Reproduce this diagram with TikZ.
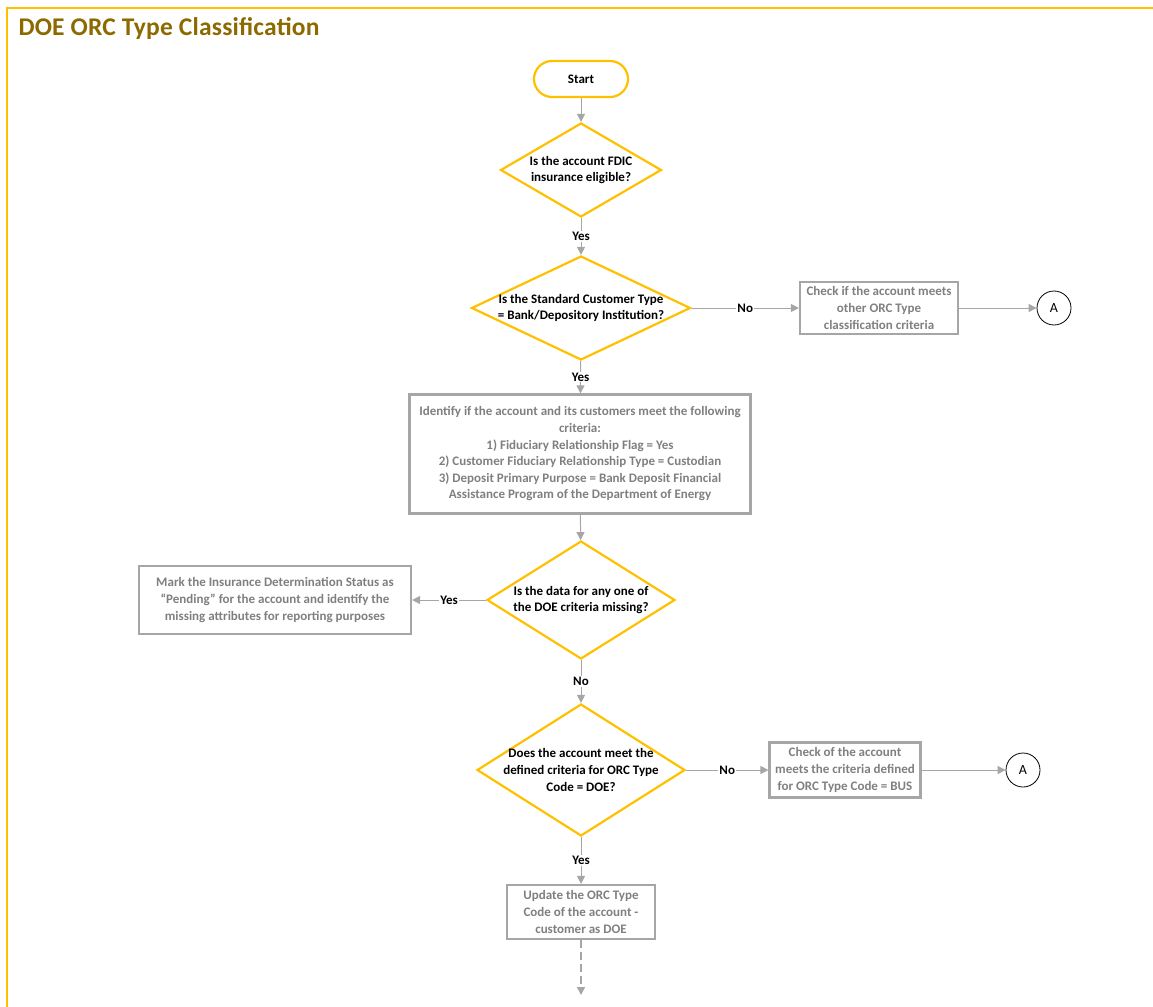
\documentclass[tikz,border=0pt]{standalone}
\usepackage{fontspec}
\setmainfont{Carlito}
\usepackage{xcolor}
\usepackage{tikz}
\usetikzlibrary{arrows.meta, shapes.geometric}
\definecolor{gold}{HTML}{FFC000}
\definecolor{titlegold}{HTML}{8C6A00}
\definecolor{greyline}{HTML}{A6A6A6}
\definecolor{greytext}{HTML}{7F7F7F}

\begin{document}
\begin{tikzpicture}[x=1pt, y=-1pt,
  every node/.style={font=\fontsize{13}{16.6}\selectfont\bfseries},
  startbox/.style={draw=gold, line width=2.2pt, rounded corners=18pt,
    minimum width=94pt, minimum height=36pt},
  decision/.style={diamond, draw=gold, line width=2.2pt, inner sep=0pt},
  qtext/.style={align=center, text=black},
  procbox/.style={draw=greyline, line width=2.2pt, align=center,
    text=greytext, inner sep=2pt},
  conn/.style={circle, draw=black, line width=0.8pt, minimum size=34pt,
    inner sep=0pt, font=\fontsize{14}{16}\selectfont},
  flow/.style={draw=greyline, line width=1pt, -{Triangle[length=8pt,width=8pt]}},
  lbl/.style={fill=white, inner sep=1pt, text=black}]
  \useasboundingbox (0,0) rectangle (1153,1006);
  % frame and heading
  \draw[gold, line width=2pt] (7,1010) -- (7,8) -- (1160,8);
  \node[anchor=west, text=titlegold, font=\fontsize{25.5}{28}\selectfont\bfseries]
    (title) at (15,29) {\addfontfeature{LetterSpace=0.8}DOE ORC Type Classification};

  \node[startbox] (start) at (581,79) {Start};
  \node[decision, minimum width=161pt, minimum height=94pt,
    label={[qtext]center:Is the account FDIC\\insurance eligible?}] (d1) at (581,170) {};
  \node[decision, minimum width=219pt, minimum height=104pt,
    label={[qtext]center:Is the Standard Customer Type\\= Bank/Depository Institution?}] (d2) at (581,308) {};
  \node[procbox, minimum width=158pt, minimum height=52pt] (other) at (879,308)
    {Check if the account meets\\other ORC Type\\classification criteria};
  \node[conn] (a1) at (1054,308) {A};
  \node[procbox, minimum width=341pt, minimum height=119pt] (ident) at (580,454)
    {Identify if the account and its customers meet the following\\criteria:\\
     1) Fiduciary Relationship Flag = Yes\\
     2) Customer Fiduciary Relationship Type = Custodian\\
     3) Deposit Primary Purpose = Bank Deposit Financial\\
     Assistance Program of the Department of Energy};
  \node[decision, minimum width=188pt, minimum height=118pt,
    label={[qtext]center:Is the data for any one of\\the DOE criteria missing?}] (d3) at (581,600) {};
  \node[procbox, minimum width=272pt, minimum height=68pt] (pend) at (275,600)
    {Mark the Insurance Determination Status as\\``Pending'' for the account and identify the\\missing attributes for reporting purposes};
  \node[decision, minimum width=208pt, minimum height=132pt,
    label={[qtext]center:Does the account meet the\\defined criteria for ORC Type\\Code = DOE?}] (d4) at (581,770) {};
  \node[procbox, minimum width=151pt, minimum height=55pt] (bus) at (845,770)
    {Check of the account\\meets the criteria defined\\for ORC Type Code = BUS};
  \node[conn] (a2) at (1023,770) {A};
  \node[procbox, minimum width=148pt, minimum height=54pt] (upd) at (581,912)
    {Update the ORC Type\\Code of the account -\\customer as DOE};
  \coordinate (end) at (581,995);

  \draw[flow] (start) -- (d1);
  \draw[flow] (d1) -- node[lbl] {Yes} (d2);
  \draw[flow] (d2) -- node[lbl] {No} (other);
  \draw[flow] (other) -- (a1);
  \draw[flow] (d2) -- node[lbl] {Yes} (ident);
  \draw[flow] (ident) -- (d3);
  \draw[flow] (d3) -- node[lbl] {Yes} (pend);
  \draw[flow] (d3) -- node[lbl] {No} (d4);
  \draw[flow] (d4) -- node[lbl] {No} (bus);
  \draw[flow] (bus) -- (a2);
  \draw[flow] (d4) -- node[lbl] {Yes} (upd);
  \draw[flow, line width=1.4pt, dash pattern=on 8pt off 4pt] (upd) -- (end);
\end{tikzpicture}
\end{document}
